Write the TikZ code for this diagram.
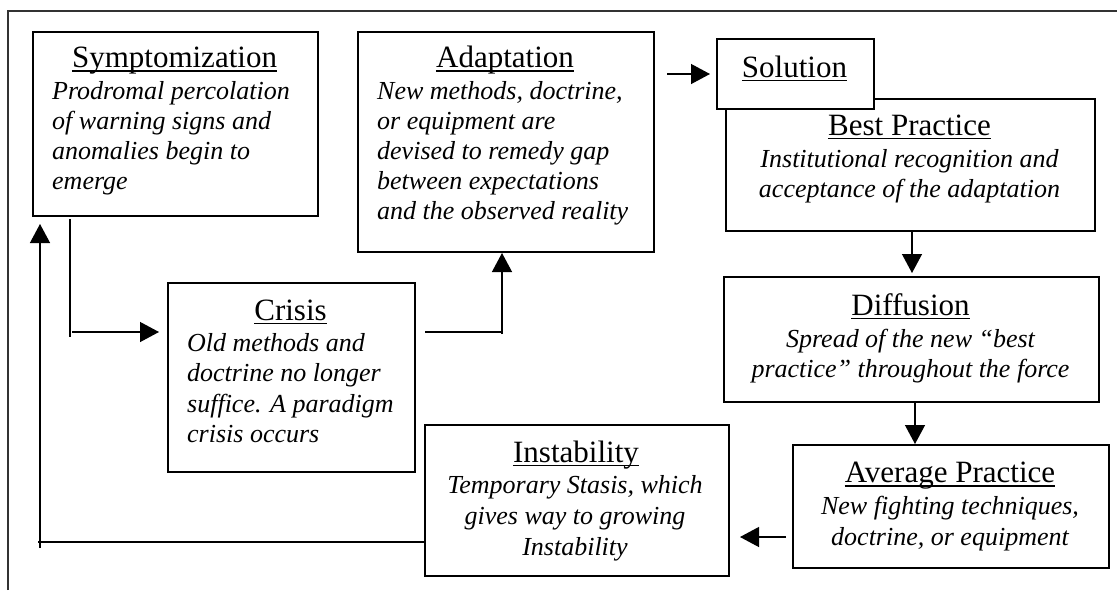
\documentclass[tikz,border=0pt]{standalone}
\usepackage{fontspec}
\setmainfont{Liberation Serif}
\usetikzlibrary{arrows.meta,calc}
\begin{document}
\begin{tikzpicture}[x=1pt,y=-1pt,
  box/.style={draw, line width=2pt, fill=white, inner sep=0pt, anchor=north west},
  ttl/.style={font=\fontsize{31}{36}\selectfont, inner sep=0pt, anchor=base},
  bodyl/.style={font=\fontsize{26}{30}\selectfont\itshape, inner sep=0pt, anchor=base west},
  bodyc/.style={font=\fontsize{26}{30}\selectfont\itshape, inner sep=0pt, anchor=base},
  conn/.style={line width=1.3pt},
  arr/.style={conn, -{Triangle[length=19pt,width=20pt]}},
  uline/.style={line width=1.3pt}]
\useasboundingbox (0,0) rectangle (1117,590);
% outer frame
\draw[line width=1.3pt, black!80] (8,590) -- (8,11) -- (1117,11);

% boxes
\node[box, minimum width=285pt, minimum height=184pt] (sym) at (32,31) {};
\node[box, minimum width=296pt, minimum height=220pt] (ada) at (357,31) {};
\node[box, minimum width=369pt, minimum height=132pt] (best) at (725,98) {};
\node[box, minimum width=157pt, minimum height=70pt] (sol) at (716,38) {};
\node[box, minimum width=375pt, minimum height=125pt] (diff) at (723,276) {};
\node[box, minimum width=316pt, minimum height=123pt] (avg) at (792,444) {};
\node[box, minimum width=304pt, minimum height=151pt] (ins) at (424,424) {};
\node[box, minimum width=247pt, minimum height=189pt] (cri) at (167,282) {};

% Symptomization
\node[ttl] (symt) at (174.5,67) {Symptomization};
\draw[uline] ([yshift=-4pt]symt.base west) -- ([yshift=-4pt]symt.base east);
\node[bodyl] (sym1) at (52,99) {Prodromal percolation};
\node[bodyl] (sym2) at (52,129) {of warning signs and};
\node[bodyl] (sym3) at (52,159) {anomalies begin to};
\node[bodyl] (sym4) at (52,189) {emerge};

% Adaptation
\node[ttl] (adat) at (505,67) {Adaptation};
\draw[uline] ([yshift=-4pt]adat.base west) -- ([yshift=-4pt]adat.base east);
\node[bodyl] (ada1) at (377,99) {New methods, doctrine,};
\node[bodyl] (ada2) at (377,129) {or equipment are};
\node[bodyl] (ada3) at (377,159) {devised to remedy gap};
\node[bodyl] (ada4) at (377,189) {between expectations};
\node[bodyl] (ada5) at (377,219) {and the observed reality};

% Solution
\node[ttl] (solt) at (794.5,77) {Solution};
\draw[uline] ([yshift=-3.5pt]solt.base west) -- ([yshift=-3.5pt]solt.base east);

% Best Practice
\node[ttl] (bestt) at (909.5,135) {Best Practice};
\draw[uline] ([yshift=-3.5pt]bestt.base west) -- ([yshift=-3.5pt]bestt.base east);
\node[bodyc] (best1) at (909.5,167) {Institutional recognition and};
\node[bodyc] (best2) at (909.5,197) {acceptance of the adaptation};

% Diffusion
\node[ttl] (difft) at (910.5,315) {Diffusion};
\draw[uline] ([yshift=-3.5pt]difft.base west) -- ([yshift=-3.5pt]difft.base east);
\node[bodyc] (diff1) at (910.5,347) {Spread of the new “best};
\node[bodyc] (diff2) at (910.5,377) {practice” throughout the force};

% Average Practice
\node[ttl] (avgt) at (950,482) {Average Practice};
\draw[uline] ([yshift=-4pt]avgt.base west) -- ([yshift=-4pt]avgt.base east);
\node[bodyc] (avg1) at (950,514) {New fighting techniques,};
\node[bodyc] (avg2) at (950,545) {doctrine, or equipment};

% Instability
\node[ttl] (inst) at (576,462) {Instability};
\draw[uline] ([yshift=-3.5pt]inst.base west) -- ([yshift=-3.5pt]inst.base east);
\node[bodyc] (ins1) at (575,493) {Temporary Stasis, which};
\node[bodyc] (ins2) at (575,524) {gives way to growing};
\node[bodyc] (ins3) at (575,555) {Instability};

% Crisis
\node[ttl] (crit) at (290.5,320) {Crisis};
\draw[uline] ([yshift=-3.5pt]crit.base west) -- ([yshift=-3.5pt]crit.base east);
\node[bodyl] (cri1) at (187,351) {Old methods and};
\node[bodyl] (cri2) at (187,381) {doctrine no longer};
\node[bodyl] (cri3) at (187,412) {suffice. A paradigm};
\node[bodyl] (cri4) at (187,442) {crisis occurs};

% connectors
\coordinate (c1) at (70,219);
\coordinate (c2) at (70,337);
\coordinate (c3) at (72,332);
\draw[conn] (c1) -- (c2);
\draw[arr, shorten >=8pt] (c3) -- (c3 -| cri.west);

\coordinate (c4) at (425,332);
\coordinate (c5) at (502,332);
\draw[conn] (c4) -- (c5);
\draw[arr] ([yshift=-2pt]c5) -- (c5 |- ada.south);

\draw[arr, shorten <=12pt, shorten >=6pt] (ada.east |- sol.west) -- (sol.west);

\coordinate (c6) at (912,230);
\draw[arr, shorten >=3pt] (c6) -- (c6 |- diff.north);

\coordinate (c7) at (915,401);
\draw[arr] (c7) -- (c7 |- avg.north);

\coordinate (c8) at (0,537);
\draw[arr, shorten <=6pt, shorten >=10pt] (avg.west |- c8) -- (ins.east |- c8);

\coordinate (c9) at (38,542);
\draw[conn] (ins.west |- c9) -- (c9);
\coordinate (c10) at (40,548);
\draw[arr, shorten >=7pt] (c10) -- (c10 |- sym.south);
\end{tikzpicture}
\end{document}
